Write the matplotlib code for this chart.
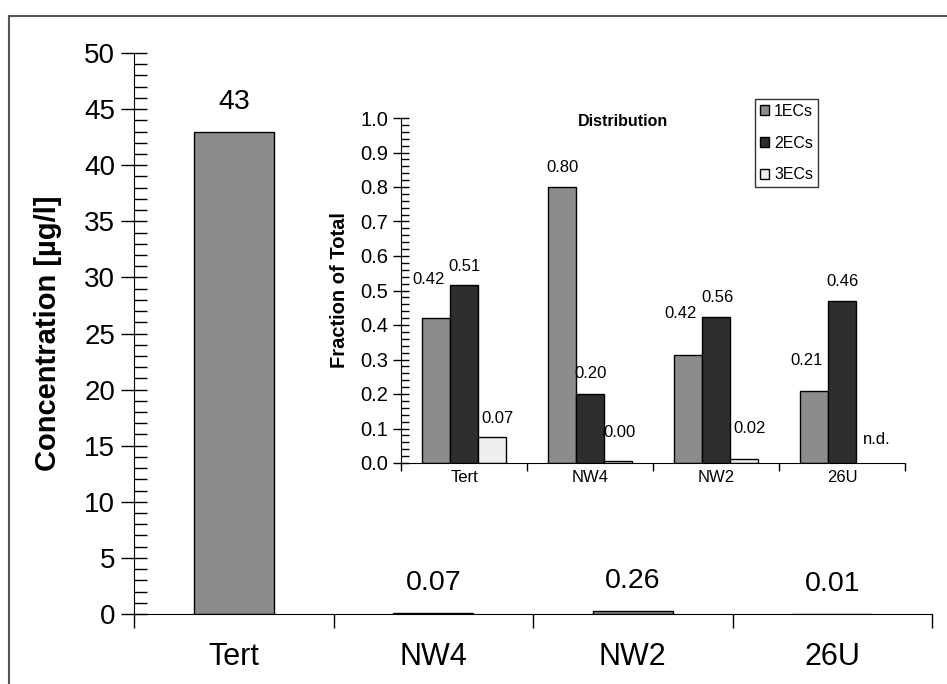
import numpy as np
import matplotlib
matplotlib.use("Agg")
import matplotlib.pyplot as plt
from matplotlib.patches import Rectangle
from matplotlib.ticker import MultipleLocator, FormatStrFormatter

plt.rcParams['font.family'] = ['Liberation Sans', 'DejaVu Sans']

# Main chart: total concentration per site
sites = ['Tert', 'NW4', 'NW2', '26U']
concentration = [43, 0.07, 0.26, 0.01]
concentration_labels = ['43', '0.07', '0.26', '0.01']

# Inset: distribution over EC classes (bar heights as drawn, labels as printed)
series = ['1ECs', '2ECs', '3ECs']
frac_1ecs = [0.42, 0.80, 0.313, 0.209]
frac_2ecs = [0.515, 0.20, 0.423, 0.47]
frac_3ecs = [0.075, 0.005, 0.012, 0.0]
labels_1ecs = ['0.42', '0.80', '0.42', '0.21']
labels_2ecs = ['0.51', '0.20', '0.56', '0.46']
labels_3ecs = ['0.07', '0.00', '0.02', 'n.d.']

colors = ['#8c8c8c', '#2e2e2e', '#eeeeee']

fig = plt.figure(figsize=(9.47, 6.84), dpi=100)

# grey frame around the whole figure (clipped at right/bottom like the source)
fig.patches.append(Rectangle((8.5 / 947, -0.05), 1.2, 1 - 15.5 / 684 + 0.05,
                             transform=fig.transFigure, fill=False,
                             edgecolor='#555555', linewidth=1.5))

# ---- main axes
ax = fig.add_axes([134 / 947, 70 / 684, (932 - 134) / 947, (614 - 53) / 684])
x = np.arange(len(sites))
ax.bar(x, concentration, width=0.4, color='#8c8c8c', edgecolor='black', linewidth=1)
ax.set_xlim(-0.5, len(sites) - 0.5)
ax.set_ylim(0, 50)
ax.yaxis.set_major_locator(MultipleLocator(5))
ax.yaxis.set_minor_locator(MultipleLocator(1))
ax.tick_params(axis='y', which='major', direction='inout', length=19, width=1,
               labelsize=20, pad=4)
ax.tick_params(axis='y', which='minor', direction='in', length=9, width=1)
ax.set_xticks(np.arange(len(sites) + 1) - 0.5, minor=False)
ax.set_xticklabels([])
ax.set_xticks(x, minor=True)
ax.set_xticklabels(sites, minor=True)
ax.tick_params(axis='x', which='major', direction='out', length=10, width=1)
ax.tick_params(axis='x', which='minor', length=0, labelsize=22, pad=20)
ax.spines['top'].set_visible(False)
ax.spines['right'].set_visible(False)
ax.set_ylabel('Concentration [µg/l]', fontsize=21, fontweight='bold', labelpad=16)
for xi, v, lab in zip(x, concentration, concentration_labels):
    ax.annotate(lab, (xi, v), xytext=(0, 30), textcoords='offset pixels',
                ha='center', va='center', fontsize=20.5)

# ---- inset axes
ins = fig.add_axes([401 / 947, (684 - 463) / 684, (905 - 401) / 947, (463 - 118) / 684])
ins.patch.set_alpha(0)
w = 0.222
all_fracs = [frac_1ecs, frac_2ecs, frac_3ecs]
all_labels = [labels_1ecs, labels_2ecs, labels_3ecs]
# label offsets in pixels (dx, dy) from the bar top, per series/site
offsets = [
    [(-7, 39), (0, 20), (-7, 42), (-7, 30)],
    [(0, 19), (1, 21), (1, 20), (0, 19)],
    [(6, 19), (2, 29), (6, 30), (7, 23)],
]
for i, (name, vals, labs, col) in enumerate(zip(series, all_fracs, all_labels, colors)):
    pos = x + (i - 1) * w
    bars = ins.bar(pos, vals, width=w, color=col, edgecolor='black',
                   linewidth=1, label=name)
    for j, (p, v, lab, off) in enumerate(zip(pos, vals, labs, offsets[i])):
        if lab == 'n.d.':
            bars[j].set_visible(False)
        ins.annotate(lab, (p, v), xytext=off, textcoords='offset pixels',
                     ha='center', va='center', fontsize=12)
ins.set_xlim(-0.5, len(sites) - 0.5)
ins.set_ylim(0, 1.0)
ins.yaxis.set_major_locator(MultipleLocator(0.1))
ins.yaxis.set_minor_locator(MultipleLocator(0.02))
ins.yaxis.set_major_formatter(FormatStrFormatter('%.1f'))
ins.tick_params(axis='y', which='major', direction='inout', length=12, width=1,
                labelsize=14.5, pad=3)
ins.tick_params(axis='y', which='minor', direction='in', length=6, width=1)
ins.set_xticks(np.arange(len(sites) + 1) - 0.5, minor=False)
ins.set_xticklabels([])
ins.set_xticks(x, minor=True)
ins.set_xticklabels(sites, minor=True)
ins.tick_params(axis='x', which='major', direction='out', length=6, width=1)
ins.tick_params(axis='x', which='minor', length=0, labelsize=12, pad=5)
ins.spines['top'].set_visible(False)
ins.spines['right'].set_visible(False)
ins.set_ylabel('Fraction of Total', fontsize=14.5, fontweight='bold', labelpad=8)
ins.text(0.44, 0.99, 'Distribution', transform=ins.transAxes, ha='center',
         va='center', fontsize=11.5, fontweight='bold')
leg = ins.legend(loc='upper left', bbox_to_anchor=((755 - 401) / 504, 1.055),
                 fontsize=11.5, frameon=True, fancybox=False, edgecolor='black',
                 handlelength=0.55, handleheight=0.55, handletextpad=0.35,
                 borderpad=0.3, labelspacing=1.05, borderaxespad=0)
leg.get_frame().set_linewidth(1)

fig.savefig('out.png', dpi=100)
